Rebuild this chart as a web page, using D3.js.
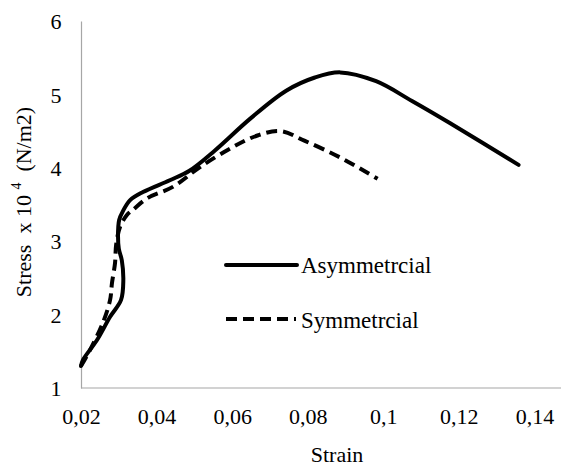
<!DOCTYPE html>
<html><head><meta charset="utf-8">
<script src="https://cdn.jsdelivr.net/npm/d3@7"></script>
</head><body style="margin:0;background:#fff">
<script>
const xTicks = [0.02,0.04,0.06,0.08,0.1,0.12,0.14];
const yTicks = [1,2,3,4,5,6];
const asymStrain = [0.0200,0.0205,0.0242,0.0277,0.0306,0.0312,0.0308,0.0300,0.0298,0.0301,0.0311,0.0330,0.0364,0.0435,0.0487,0.0553,0.0648,0.0743,0.0819,0.0886,0.0981,0.1076,0.1176,0.1358];
const asymStress = [1.30,1.38,1.65,1.97,2.20,2.47,2.74,2.90,3.08,3.29,3.41,3.56,3.67,3.83,3.96,4.23,4.67,5.05,5.23,5.30,5.18,4.91,4.61,4.04];
const symStrain = [0.0200,0.0224,0.0258,0.0277,0.0282,0.0290,0.0293,0.0303,0.0322,0.0338,0.0377,0.0443,0.0515,0.0601,0.0667,0.0728,0.0791,0.0886,0.0985];
const symStress = [1.30,1.52,1.89,2.20,2.43,2.70,2.95,3.19,3.36,3.43,3.59,3.74,4.01,4.28,4.44,4.50,4.37,4.14,3.85];
const seriesNames = ["Asymmetrcial","Symmetrcial"];

const W=561,H=466;
const FONT="Liberation Serif";
const svg=d3.select("body").append("svg").attr("width",W).attr("height",H).style("display","block");
const x=d3.scaleLinear().domain([0.02,0.16]).range([81,610]);
const y=d3.scaleLinear().domain([1,6]).range([388,21]);

const xAxis=d3.axisBottom(x).tickValues(xTicks).tickSize(0).tickPadding(0)
  .tickFormat(d=>String(d).replace(".",","));
const gx=svg.append("g").attr("transform","translate(0,388)").call(xAxis).attr("font-family",FONT);
gx.select(".domain").attr("stroke","#a6a6a6").attr("stroke-width",1.2).attr("d","M81,0H561");
gx.selectAll("text").attr("font-family",FONT).attr("font-size",22).attr("fill","#000").attr("dy",null).attr("y",36);

const yAxis=d3.axisLeft(y).tickValues(yTicks).tickSize(0).tickPadding(0).tickFormat(d3.format("d"));
const gy=svg.append("g").attr("transform","translate(81,0)").call(yAxis).attr("font-family",FONT);
gy.select(".domain").attr("stroke","#a6a6a6").attr("stroke-width",1.2);
gy.selectAll("text").attr("font-family",FONT).attr("font-size",22).attr("fill","#000")
  .attr("text-anchor","middle").attr("x",-25).attr("dy","0.35em");

const line=d3.line().x(d=>x(d[0])).y(d=>y(d[1])).curve(d3.curveCatmullRom.alpha(0.5));
const asym=asymStrain.map((s,i)=>[s,asymStress[i]]);
const sym=symStrain.map((s,i)=>[s,symStress[i]]);
svg.append("path").attr("d",line(asym)).attr("fill","none").attr("stroke","#000").attr("stroke-width",4).attr("stroke-linecap","round");
svg.append("path").attr("d",line(sym)).attr("fill","none").attr("stroke","#000").attr("stroke-width",4).attr("stroke-dasharray","11,6");

const lg=svg.append("g").attr("font-family",FONT);
lg.append("line").attr("x1",226).attr("x2",297).attr("y1",265).attr("y2",265).attr("stroke","#000").attr("stroke-width",4).attr("stroke-linecap","round");
lg.append("text").attr("font-family",FONT).attr("x",301).attr("y",265).attr("dy","0.35em").attr("font-size",23).text(seriesNames[0]);
lg.append("line").attr("x1",226).attr("x2",296).attr("y1",319).attr("y2",319).attr("stroke","#000").attr("stroke-width",4).attr("stroke-dasharray","11,6");
lg.append("text").attr("font-family",FONT).attr("x",301).attr("y",320).attr("dy","0.35em").attr("font-size",23).text(seriesNames[1]);

svg.append("text").attr("font-family",FONT).attr("x",337).attr("y",454).attr("dy","0.35em").attr("text-anchor","middle").attr("font-size",22).text("Strain");
const yt=svg.append("text").attr("font-family",FONT).attr("transform","translate(23,202) rotate(-90)").attr("text-anchor","middle").attr("dy","0.35em").attr("font-size",22);
yt.append("tspan").text("Stress\u00a0 x 10 ");
yt.append("tspan").attr("font-size",14).attr("dy","-0.7em").text("4");
yt.append("tspan").attr("dy","0.45em").text("\u00a0 (N/m2)");
</script>
</body></html>
